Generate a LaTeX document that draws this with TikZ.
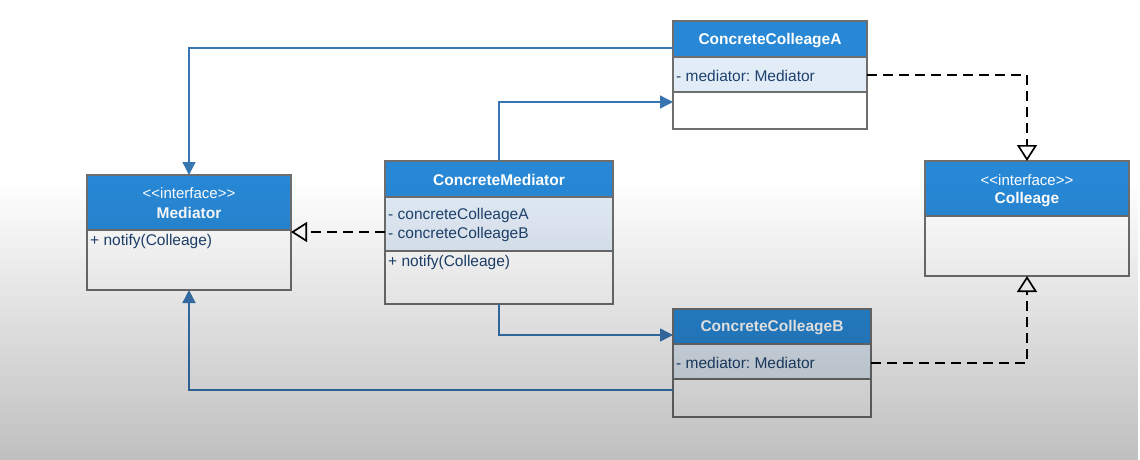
\documentclass[tikz,border=0pt]{standalone}
\usepackage{fontspec}
\setmainfont{Liberation Sans}
\usetikzlibrary{arrows.meta,fadings}
\definecolor{hdr}{RGB}{40,136,214}
\definecolor{strip}{RGB}{226,236,247}
\definecolor{frame}{RGB}{110,110,110}
\definecolor{txt}{RGB}{30,66,110}
\definecolor{lnk}{RGB}{56,118,178}
\tikzfading[name=fadedown, top color=transparent!100, bottom color=transparent!0]
\frenchspacing
\begin{document}
\begin{tikzpicture}[x=1pt,y=-1pt,
  cls/.style={fill=white, inner sep=0pt, outer sep=0pt, anchor=north west},
  frm/.style={draw=frame, line width=1.3pt},
  title/.style={text=white, font=\fontsize{15.5}{18}\selectfont\bfseries, inner sep=0pt},
  stereo/.style={text=white, font=\fontsize{15}{18}\selectfont, inner sep=0pt},
  attr/.style={text=txt, font=\fontsize{15.5}{18}\selectfont, inner sep=0pt, anchor=west},
  assoc/.style={draw=lnk, line width=1.4pt, -{Triangle[width=13pt,length=13pt]}},
  realize/.style={draw=black, line width=1.7pt, dash pattern=on 10pt off 6pt,
     -{Triangle[open,width=20pt,length=16pt,fill=white]}}]
\useasboundingbox (0,0) rectangle (1140,460);
\fill[white] (0,0) rectangle (1140,460);

% Mediator
\node[cls, minimum width=204pt, minimum height=115pt] (med) at (87,175) {};
\fill[hdr] (med.north west) rectangle (med.east |- 0,230);
\draw[frm] (med.north west) rectangle (med.south east);
\draw[frm] (med.west |- 0,230) -- (med.east |- 0,230);
\node[stereo] (medst) at (189,193) {<{}<interface>{}>};
\node[title] (medti) at (189,213) {Mediator};
\node[attr] (medop) at (90,241) {+ notify(Colleage)};

% ConcreteMediator
\node[cls, minimum width=228pt, minimum height=143pt] (cm) at (385,161) {};
\fill[hdr] (cm.north west) rectangle (cm.east |- 0,197);
\fill[strip] (cm.west |- 0,197) rectangle (cm.east |- 0,251);
\draw[frm] (cm.north west) rectangle (cm.south east);
\draw[frm] (cm.west |- 0,197) -- (cm.east |- 0,197);
\draw[frm] (cm.west |- 0,251) -- (cm.east |- 0,251);
\node[title] (cmti) at (499,179.5) {ConcreteMediator};
\node[attr] (cma1) at (388,215) {- concreteColleageA};
\node[attr] (cma2) at (388,234) {- concreteColleageB};
\node[attr] (cmop) at (388,262) {+ notify(Colleage)};

% ConcreteColleageA
\node[cls, minimum width=194pt, minimum height=108pt] (cca) at (673,21) {};
\fill[hdr] (cca.north west) rectangle (cca.east |- 0,57);
\fill[strip] (cca.west |- 0,57) rectangle (cca.east |- 0,92);
\draw[frm] (cca.north west) rectangle (cca.south east);
\draw[frm] (cca.west |- 0,57) -- (cca.east |- 0,57);
\draw[frm] (cca.west |- 0,92) -- (cca.east |- 0,92);
\node[title] (ccati) at (770,41) {ConcreteColleageA};
\node[attr] (ccaat) at (676,75.5) {- mediator: Mediator};

% ConcreteColleageB
\node[cls, minimum width=198pt, minimum height=108pt] (ccb) at (673,309) {};
\fill[hdr] (ccb.north west) rectangle (ccb.east |- 0,344);
\fill[strip] (ccb.west |- 0,344) rectangle (ccb.east |- 0,379);
\draw[frm] (ccb.north west) rectangle (ccb.south east);
\draw[frm] (ccb.west |- 0,344) -- (ccb.east |- 0,344);
\draw[frm] (ccb.west |- 0,379) -- (ccb.east |- 0,379);
\node[title] (ccbti) at (772,327.5) {ConcreteColleageB};
\node[attr] (ccbat) at (676,362.5) {- mediator: Mediator};

% Colleage
\node[cls, minimum width=204pt, minimum height=115pt] (col) at (925,161) {};
\fill[hdr] (col.north west) rectangle (col.east |- 0,216);
\draw[frm] (col.north west) rectangle (col.south east);
\draw[frm] (col.west |- 0,216) -- (col.east |- 0,216);
\node[stereo] (colst) at (1027,180) {<{}<interface>{}>};
\node[title] (colti) at (1027,199.5) {Colleage};

% connectors
\draw[assoc] (cca.west |- 0,48) -| (med.north);
\draw[assoc] (ccb.west |- 0,390) -| (med.south);
\draw[assoc] (cm.north) |- (cca.west |- 0,102);
\draw[assoc] (cm.south) |- (ccb.west |- 0,335);
\draw[realize] (cm.west |- 0,232) -- (med.east |- 0,232);
\draw[realize] (cca.east |- 0,75) -| (col.north);
\draw[realize] (ccb.east |- 0,363) -| (col.south);

% screen shading
\fill[black, opacity=0.25, path fading=fadedown] (0,180) rectangle (1140,460);
\end{tikzpicture}
\end{document}
